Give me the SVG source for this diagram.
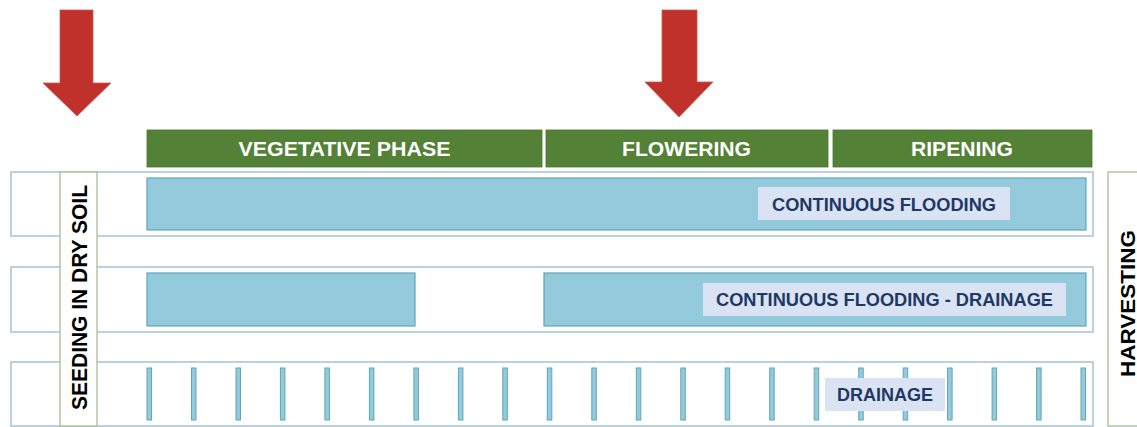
<svg xmlns="http://www.w3.org/2000/svg" width="1137" height="427" viewBox="0 0 1137 427">
<style>
.bg{fill:#ffffff}
.arrow{fill:#c0312b;stroke:#d0574f;stroke-width:0.8}
.hdr{fill:#538135;stroke:#4a7530;stroke-width:0.8}
.hdrt{font-family:"Liberation Sans",Arial,sans-serif;font-weight:bold;font-size:21px;fill:#ffffff;text-anchor:middle}
.row{fill:#ffffff;stroke:#a3c4d1;stroke-width:1.5}
.bar{fill:#93cbdc;stroke:#5ea6bb;stroke-width:1.2}
.tick{fill:#93cbdc;stroke:#5ea6bb;stroke-width:1}
.lbl{fill:#dae3f3}
.lblt{font-family:"Liberation Sans",Arial,sans-serif;font-weight:bold;font-size:18px;fill:#1f3864;text-anchor:middle}
.side{fill:#ffffff;stroke:#9dbb8a;stroke-width:1.2}
.sidet{font-family:"Liberation Sans",Arial,sans-serif;font-weight:bold;font-size:22px;fill:#000000;text-anchor:middle}
</style>
<rect class="bg" x="0" y="0" width="1137" height="427"/>

<g id="arrow-seeding">
<polygon class="arrow" points="60,10 93,10 93,83 111,83 77,116 43,83 60,83"/>
</g>
<g id="arrow-flowering">
<polygon class="arrow" points="662,10 697,10 697,82 713,82 679,117 645,82 662,82"/>
</g>

<g id="phase-vegetative">
<rect class="hdr" x="147" y="130" width="395" height="37"/>
<text class="hdrt" x="344.5" y="156" textLength="212" lengthAdjust="spacingAndGlyphs">VEGETATIVE PHASE</text>
</g>
<g id="phase-flowering">
<rect class="hdr" x="546" y="130" width="282" height="37"/>
<text class="hdrt" x="686.5" y="156" textLength="129" lengthAdjust="spacingAndGlyphs">FLOWERING</text>
</g>
<g id="phase-ripening">
<rect class="hdr" x="833" y="130" width="259" height="37"/>
<text class="hdrt" x="962" y="156" textLength="102" lengthAdjust="spacingAndGlyphs">RIPENING</text>
</g>

<g id="row-continuous">
<rect class="row" x="11" y="172" width="1082" height="64"/>
<rect class="bar" x="147" y="178" width="939" height="52"/>
<rect class="lbl" x="758" y="187" width="252" height="33"/>
<text class="lblt" x="884" y="210.5" textLength="224" lengthAdjust="spacingAndGlyphs">CONTINUOUS FLOODING</text>
</g>

<g id="row-continuous-drainage">
<rect class="row" x="11" y="267" width="1082" height="65"/>
<rect class="bar" x="147" y="273" width="268" height="53"/>
<rect class="bar" x="544" y="273" width="542" height="53"/>
<rect class="lbl" x="703" y="283" width="363" height="33"/>
<text class="lblt" x="884.5" y="306" textLength="337" lengthAdjust="spacingAndGlyphs">CONTINUOUS FLOODING - DRAINAGE</text>
</g>

<g id="row-drainage">
<rect class="row" x="11" y="362" width="1082" height="64"/>
<g id="ticks">
<rect class="tick" x="147" y="368" width="4.5" height="52"/>
<rect class="tick" x="191.5" y="368" width="4.5" height="52"/>
<rect class="tick" x="236" y="368" width="4.5" height="52"/>
<rect class="tick" x="280.4" y="368" width="4.5" height="52"/>
<rect class="tick" x="324.9" y="368" width="4.5" height="52"/>
<rect class="tick" x="369.4" y="368" width="4.5" height="52"/>
<rect class="tick" x="413.9" y="368" width="4.5" height="52"/>
<rect class="tick" x="458.4" y="368" width="4.5" height="52"/>
<rect class="tick" x="502.8" y="368" width="4.5" height="52"/>
<rect class="tick" x="547.3" y="368" width="4.5" height="52"/>
<rect class="tick" x="591.8" y="368" width="4.5" height="52"/>
<rect class="tick" x="636.3" y="368" width="4.5" height="52"/>
<rect class="tick" x="680.8" y="368" width="4.5" height="52"/>
<rect class="tick" x="725.2" y="368" width="4.5" height="52"/>
<rect class="tick" x="769.7" y="368" width="4.5" height="52"/>
<rect class="tick" x="814.2" y="368" width="4.5" height="52"/>
<rect class="tick" x="858.7" y="368" width="4.5" height="52"/>
<rect class="tick" x="903.2" y="368" width="4.5" height="52"/>
<rect class="tick" x="947.6" y="368" width="4.5" height="52"/>
<rect class="tick" x="992.1" y="368" width="4.5" height="52"/>
<rect class="tick" x="1036.6" y="368" width="4.5" height="52"/>
<rect class="tick" x="1081" y="368" width="4.5" height="52"/>
</g>
<rect class="lbl" x="825" y="378" width="120" height="33"/>
<text class="lblt" x="885" y="401" textLength="96" lengthAdjust="spacingAndGlyphs">DRAINAGE</text>
</g>

<g id="seeding">
<rect class="side" x="60" y="172" width="37" height="254"/>
<text class="sidet" transform="translate(86.5,297.5) rotate(-90)" x="0" y="0" textLength="225" lengthAdjust="spacingAndGlyphs">SEEDING IN DRY SOIL</text>
</g>

<g id="harvesting">
<rect class="side" x="1108" y="172" width="40" height="254"/>
<text class="sidet" style="font-size:21px" transform="translate(1135,303.5) rotate(-90)" x="0" y="0" textLength="147" lengthAdjust="spacingAndGlyphs">HARVESTING</text>
</g>
</svg>
